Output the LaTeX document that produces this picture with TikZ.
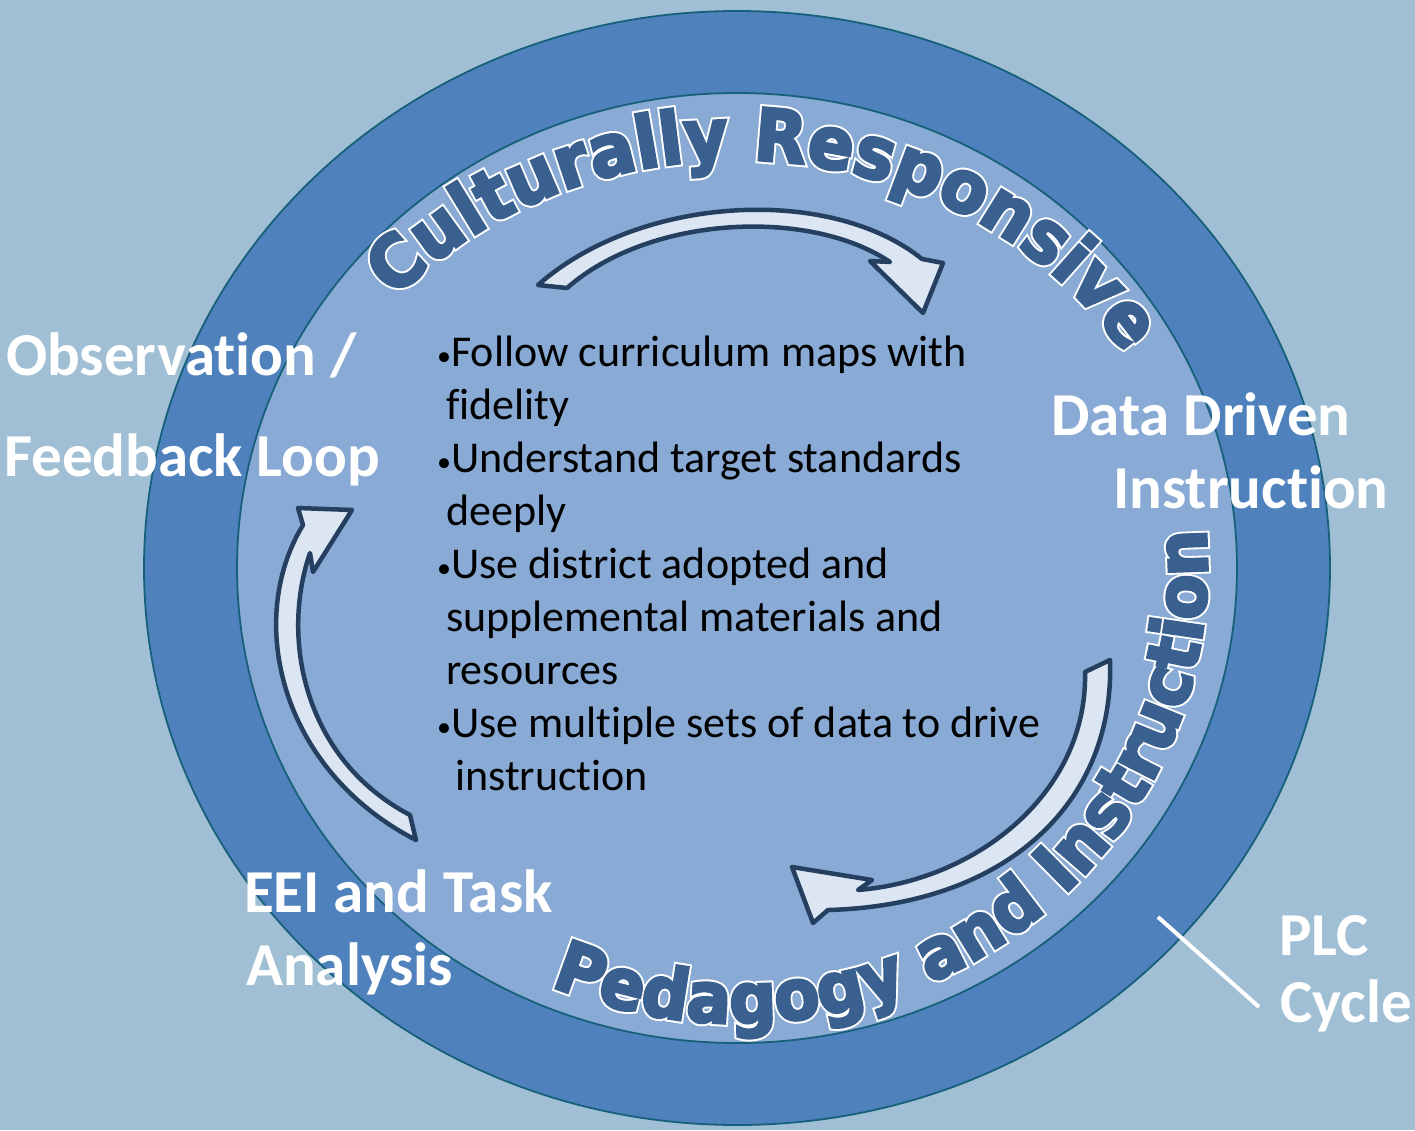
\documentclass[tikz,border=0pt]{standalone}
\usepackage{fontspec}
\setmainfont{Carlito}[Ligatures=NoCommon]
\newfontfamily\arcfont{DejaVu Sans}
\usetikzlibrary{decorations.text}

\definecolor{bgblue}{HTML}{A0BFD4}
\definecolor{ringblue}{HTML}{4F81BD}
\definecolor{innerblue}{HTML}{88AAD4}
\definecolor{rimline}{HTML}{17607A}
\definecolor{arctext}{HTML}{3A6090}
\definecolor{arrowfill}{HTML}{DCE6F2}
\definecolor{arrowline}{HTML}{243F60}

% glyphs of the curved headings: a wide white stroke under a dark stroke
\newcommand\haloglyph[1]{\color{arctext}\special{pdf:literal direct 1 1 1 RG 7 w 2 Tr}\scalebox{.94}[1]{#1}}
\newcommand\boldglyph[1]{\color{arctext}\special{pdf:literal direct 0.227 0.376 0.565 RG 3 w 2 Tr}\scalebox{.94}[1]{#1}}

\newcommand\bul{\makebox[14pt][l]{\fontsize{28}{28}\selectfont\raisebox{1pt}{•}}}
\newcommand\topfont{\arcfont\bfseries\fontsize{72}{72}\selectfont}
\newcommand\bottomfont{\arcfont\bfseries\fontsize{70}{70}\selectfont}

\tikzset{
  cyclearrow/.style={fill=arrowfill, draw=arrowline, line width=4.5pt, line join=round},
  rim/.style={draw=rimline, line width=1.8pt},
  whitelabel/.style={anchor=base west, inner sep=0pt, text=white,
    font=\bfseries\fontsize{61}{61}\selectfont},
  % #1 = words, #2 = font, #3 = glyph command
  arcwords/.style n args={3}{decorate, decoration={text effects along path,
    text={#1}, text align=center,
    text effects/.cd, text along path,
    characters={text=arctext, inner sep=0pt, font=#2},
    character command=#3}}
}

\begin{document}
\begin{tikzpicture}[x=1pt, y=-1pt]
\useasboundingbox (0,0) rectangle (1415,1130);
\fill[bgblue] (0,0) rectangle (1415,1130);

% rings
\path[rim, fill=ringblue] (737,568) ellipse [x radius=593pt, y radius=557pt];
\path[rim, fill=innerblue] (737,568) ellipse [x radius=500pt, y radius=475pt];

% circular arrows
\draw[cyclearrow] (538,285) .. controls (640,195) and (830,185) .. (922,259)
  -- (943,263) -- (923,313) -- (870,261) -- (890,262)
  .. controls (810,208) and (650,215) .. (567,288) -- cycle;
\draw[cyclearrow] (1110,660) .. controls (1115,800) and (1010,905) .. (828,910)
  -- (813,923) -- (792,867) -- (872,880) -- (858,890)
  .. controls (980,880) and (1088,790) .. (1085,672) -- cycle;
\draw[cyclearrow] (416,840) .. controls (280,770) and (245,620) .. (303,525)
  -- (298,508) -- (352,510) -- (313,572) -- (310,553)
  .. controls (280,640) and (305,760) .. (410,815) -- cycle;

% central list (anchored at the baseline of its last line)
\node[anchor=base west, inner sep=0pt, align=left,
  font=\fontsize{44}{52.9}\selectfont] (list) at (437,790)
  {\bul Follow curriculum maps with\\
   \hspace*{9pt}fidelity\\
   \bul Understand target standards\\
   \hspace*{9pt}deeply\\
   \bul Use district adopted and\\
   \hspace*{9pt}supplemental materials and\\
   \hspace*{9pt}resources\\
   \bul Use multiple sets of data to drive\\
   \hspace*{18pt}instruction};

% curved headings: white-edged layer first, solid layer on top
\foreach \glyph in {\haloglyph, \boldglyph}{
  \path[arcwords={Culturally Responsive}{\topfont}{\glyph}]
    (737,568) ++(165:455pt and 408pt)
    arc [start angle=165, end angle=5, x radius=455pt, y radius=408pt];
  \path[arcwords={Pedagogy and Instruction}{\bottomfont}{\glyph}]
    (737,568) ++(-150:470pt and 455pt)
    arc [start angle=-150, end angle=42, x radius=470pt, y radius=455pt];
}

% stage labels
\node[whitelabel] (obs1) at (6,375) {Observation /};
\node[whitelabel] (obs2) at (4,476) {Feedback Loop};
\node[whitelabel] (ddi1) at (1051,435) {Data Driven};
\node[whitelabel] (ddi2) at (1113,508) {Instruction};
\node[whitelabel] (eei1) at (244,912) {EEI and Task};
\node[whitelabel] (eei2) at (246,985) {Analysis};
\node[whitelabel] (plc1) at (1279,955) {PLC};
\node[whitelabel] (plc2) at (1280,1022) {Cycle};

% pointer from the PLC label to the outer ring
\coordinate (ringpt) at (1158,917);
\coordinate (labelpt) at (1259,1007);
\draw[white, line width=4pt] (ringpt) -- (labelpt);
\end{tikzpicture}
\end{document}
